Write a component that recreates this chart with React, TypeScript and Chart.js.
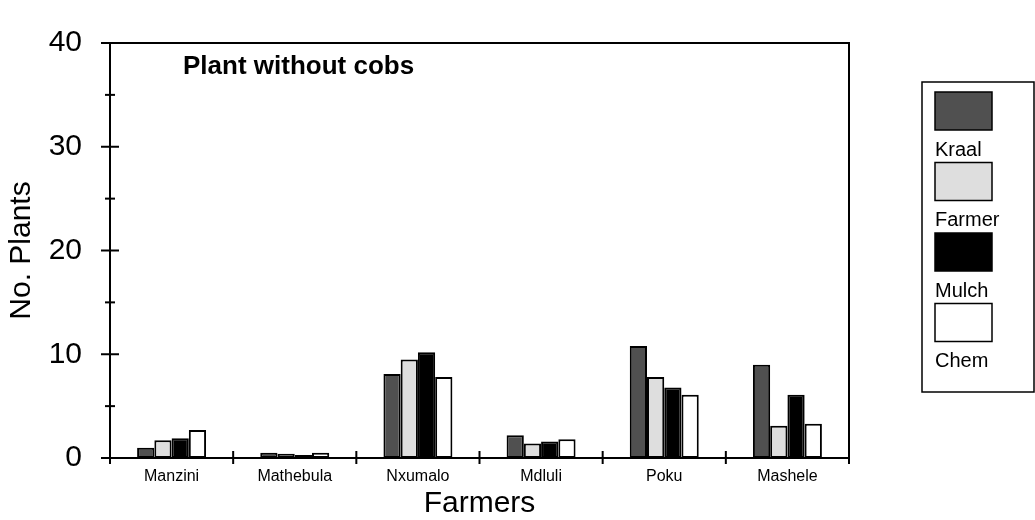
import React, { useEffect, useRef } from "react";
import { Chart, registerables } from "chart.js";

Chart.register(...registerables);

const FONT = "'Liberation Sans', Arial, Helvetica, sans-serif";

const farmers = ["Manzini", "Mathebula", "Nxumalo", "Mdluli", "Poku", "Mashele"];
const kraal = [1.0, 0.5, 8.1, 2.2, 10.8, 9.0];
const farmerPractice = [1.7, 0.4, 9.5, 1.4, 7.8, 3.1];
const mulch = [1.9, 0.3, 10.2, 1.6, 6.8, 6.1];
const chem = [2.7, 0.5, 7.8, 1.8, 6.1, 3.3];
const seriesNames = ["Kraal", "Farmer", "Mulch", "Chem"];
const seriesColors = ["#505050", "#dedede", "#000000", "#ffffff"];
const yMin = 0;
const yMax = 40;
const yMajorStep = 10;
const yMinorStep = 5;
const chartTitle = "Plant without cobs";
const xTitle = "Farmers";
const yTitle = "No. Plants";

const framePlugin = {
  id: "framePlugin",
  afterDraw(chart: any) {
    const { ctx, chartArea: a, scales } = chart;
    const ys = scales.y;
    const xs = scales.x;
    ctx.save();
    ctx.strokeStyle = "#000";
    ctx.lineWidth = 2;
    ctx.strokeRect(a.left, a.top, a.right - a.left, a.bottom - a.top);
    const line = (x1: number, y1: number, x2: number, y2: number) => {
      ctx.beginPath();
      ctx.moveTo(x1, y1);
      ctx.lineTo(x2, y2);
      ctx.stroke();
    };
    // y ticks crossing the axis
    for (let v = yMin; v <= yMax; v += yMinorStep) {
      const py = ys.getPixelForValue(v);
      const len = v % yMajorStep === 0 ? 9 : 5;
      line(a.left - len, py, a.left + len, py);
    }
    // y axis extends slightly below
    line(a.left, a.bottom, a.left, a.bottom + 6);
    // x ticks at category boundaries
    for (let i = 0; i <= farmers.length; i++) {
      const px = xs.getPixelForValue(i - 0.5);
      line(px, a.bottom - 7, px, a.bottom + 6);
    }
    // inner title
    ctx.fillStyle = "#000";
    ctx.font = `bold 26px ${FONT}`;
    ctx.textBaseline = "middle";
    ctx.textAlign = "left";
    ctx.fillText(chartTitle, a.left + 73, a.top + 24);

    // legend
    const lx = 922, ly = 82, lr = 1034, lb = 392;
    ctx.lineWidth = 1.5;
    ctx.strokeRect(lx, ly, lr - lx, lb - ly);
    chart.data.datasets.forEach((ds: any, i: number) => {
      const top = 92 + i * 70.5;
      ctx.fillStyle = ds.backgroundColor;
      ctx.fillRect(935, top, 57, 38);
      ctx.strokeStyle = "#000";
      ctx.lineWidth = 1.5;
      ctx.strokeRect(935, top, 57, 38);
      ctx.fillStyle = "#000";
      ctx.font = `20px ${FONT}`;
      ctx.textBaseline = "middle";
      ctx.fillText(ds.label, 935, top + 58);
    });
    ctx.restore();
  },
};

export default function App() {
  const ref = useRef<HTMLCanvasElement | null>(null);
  useEffect(() => {
    if (!ref.current) return;
    const seriesData = [kraal, farmerPractice, mulch, chem];
    const chart = new Chart(ref.current, {
      type: "bar",
      data: {
        labels: farmers,
        datasets: seriesNames.map((name, i) => ({
          label: name,
          data: seriesData[i],
          backgroundColor: seriesColors[i],
          borderColor: "#000",
          borderWidth: 2,
          borderSkipped: false,
          categoryPercentage: 0.56,
          barPercentage: 1.0,
        })),
      },
      options: {
        animation: false,
        responsive: false,
        maintainAspectRatio: false,
        layout: { padding: { top: 21, right: 186, left: 0, bottom: 0 } },
        plugins: {
          legend: { display: false },
          tooltip: { enabled: false },
          title: { display: false },
        },
        scales: {
          x: {
            type: "category",
            offset: true,
            grid: { display: false, drawTicks: false },
            border: { display: false },
            ticks: {
              color: "#000",
              font: { family: FONT, size: 16 },
              padding: 9,
              maxRotation: 0,
              autoSkip: false,
            },
            title: {
              display: true,
              text: xTitle,
              color: "#000",
              font: { family: FONT, size: 30, lineHeight: 1 },
              padding: { top: 0, bottom: 1 },
            },
            afterFit(s: any) {
              s.height = 62;
            },
          },
          y: {
            min: yMin,
            max: yMax,
            grid: { display: false, drawTicks: false },
            border: { display: false },
            ticks: {
              stepSize: yMajorStep,
              color: "#000",
              font: { family: FONT, size: 30, lineHeight: 1 },
              padding: 28,
            },
            title: {
              display: true,
              text: yTitle,
              color: "#000",
              font: { family: FONT, size: 30, lineHeight: 1 },
              padding: { top: 7, bottom: 0 },
            },
            afterFit(s: any) {
              s.width = 110;
            },
          },
        },
      },
      plugins: [framePlugin],
    });
    return () => chart.destroy();
  }, []);
  return (
    <div style={{ position: "absolute", left: 0, top: 0, width: 1035, height: 520, background: "#fff" }}>
      <canvas ref={ref} width={1035} height={520} style={{ display: "block" }} />
    </div>
  );
}
